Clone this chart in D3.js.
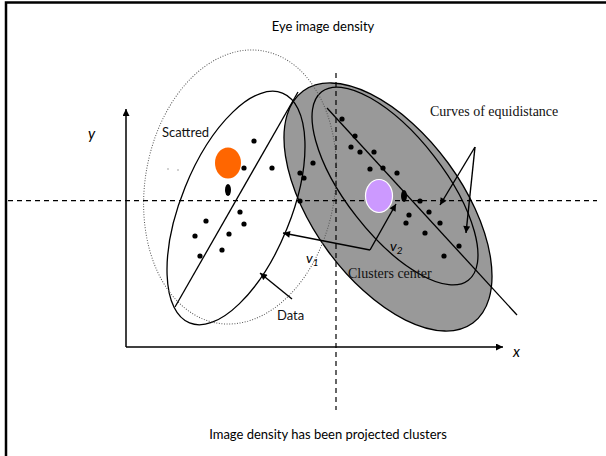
<!DOCTYPE html>
<html>
<head>
<meta charset="utf-8">
<script src="https://cdn.jsdelivr.net/npm/d3@7"></script>
<style>
  body { margin: 0; background: #fff; }
  .calibri { font-family: Lato, "Open Sans", sans-serif; }
  .serif { font-family: "Liberation Serif", "DejaVu Serif", serif; }
</style>
</head>
<body>
<div class="chart"></div>
<script>
// diagram values, in axis units (origin = where the x and y axes meet)

const leftPoints = [
    [128, 206], [118, 179], [146, 179], [174, 174], [178, 169], [187, 184],
    [174, 146], [114, 135], [118, 123], [80, 126], [69, 111], [103, 113],
    [96, 97], [74, 91]
];
const rightPoints = [
    [216, 228], [229, 211], [225, 200], [234, 195], [248, 195], [244, 178],
    [257, 179], [271, 174], [294, 146], [303, 135], [283, 132], [280, 124],
    [314, 124], [299, 114], [333, 101], [318, 91]
];
const tallDots = [[102, 157], [278, 151]];
const faintDots = [[42, 178], [52, 177]];

// cluster centres: x, y, rx, ry, colour
const centers = [
    { name: "scattred", x: 102, y: 184, rx: 13, ry: 15.5, color: "#ff6600" },
    { name: "cluster", x: 253, y: 151, rx: 13.5, ry: 16.5, color: "#cc99ff" }
];

// ellipses: centre, radii, rotation in degrees
const ellipses = [
    { name: "projected", x: 262, y: 140, rx: 143.7, ry: 74.5, angle: 53.8 },
    { name: "equidistance", x: 269, y: 161, rx: 119.4, ry: 49.2, angle: 52.1 },
    { name: "data", x: 110, y: 139, rx: 55, ry: 124, angle: 22 },
    { name: "density", x: 114, y: 160, rx: 95, ry: 138, angle: 9.4 }
];

// principal lines through the two clusters
const axisLines = [
    [[172, 255], [49, 40]],
    [[201, 239], [391, 32]]
];

// arrows: from -> to
const arrows = [
    [[244, 97], [157, 114]],   // v1
    [[244, 97], [270, 143]],   // v2
    [[166, 48], [134, 74]],    // Data
    [[349, 200], [314, 142]],  // curves
    [[349, 200], [340, 114]]
];

const dashY = 146.3, dashX = 210;
const xMax = 377, yMax = 238;

const labels = [
    { text: "Scattred", x: 36, y: 210, cls: "calibri", size: 13 },
    { text: "Data", x: 151, y: 27, cls: "calibri", size: 13 },
    { text: "Clusters center", x: 222, y: 69, cls: "serif", size: 14 },
    { text: "Curves of equidistance", x: 304, y: 231, cls: "serif", size: 14 }
];
const subLabels = [
    { v: "v", sub: "1", x: 180, y: 84 },
    { v: "v", sub: "2", x: 264, y: 96 }
];

const title = "Eye image density";
const caption = "Image density has been projected clusters";


const width = 606, height = 456;

const svg = d3.select(".chart")
    .append("svg")
    .attr("width", width)
    .attr("height", height);

// scales: one unit = one pixel, y goes up
const x = d3.scaleLinear().domain([0, xMax]).range([126, 503]);
const y = d3.scaleLinear().domain([0, yMax]).range([347, 109]);
const len = v => x(v) - x(0);

const defs = svg.append("defs");
defs.append("marker")
    .attr("id", "arrow")
    .attr("viewBox", "0 0 10 10")
    .attr("refX", 10)
    .attr("refY", 5)
    .attr("markerUnits", "userSpaceOnUse")
    .attr("markerWidth", 9)
    .attr("markerHeight", 7)
    .attr("orient", "auto")
    .append("path")
    .attr("d", "M0,0 L10,5 L0,10 z")
    .attr("fill", "#000");

// frame (top and left only)
svg.append("path")
    .attr("d", `M6,456 L6,2.5 L606,2.5`)
    .attr("fill", "none")
    .attr("stroke", "#000")
    .attr("stroke-width", 2.5);

// the gray ellipse + inner curve
const ellG = svg.append("g");
ellipses.forEach(e => {
    const el = ellG.append("ellipse")
        .attr("transform", `translate(${x(e.x)},${y(e.y)}) rotate(${e.angle})`)
        .attr("rx", len(e.rx))
        .attr("ry", len(e.ry));
    if (e.name == "projected") {
        el.attr("fill", "#999999").attr("stroke", "#000").attr("stroke-width", 1.3);
    }
    else if (e.name == "density") {
        el.attr("fill", "none").attr("stroke", "#555").attr("stroke-width", 1)
            .attr("stroke-dasharray", "1,1.6");
    }
    else {
        el.attr("fill", "none").attr("stroke", "#000").attr("stroke-width", 1.3);
    }
});

// dashed cross lines
svg.append("line")
    .attr("x1", 8).attr("x2", 597)
    .attr("y1", y(dashY)).attr("y2", y(dashY))
    .attr("stroke", "#000").attr("stroke-width", 1.2)
    .attr("stroke-dasharray", "5,4");
svg.append("line")
    .attr("x1", x(dashX)).attr("x2", x(dashX))
    .attr("y1", 73).attr("y2", 410)
    .attr("stroke", "#000").attr("stroke-width", 1.2)
    .attr("stroke-dasharray", "5,4");

// axes
svg.append("line")
    .attr("x1", x(0)).attr("y1", y(0)).attr("x2", x(0)).attr("y2", y(yMax))
    .attr("stroke", "#000").attr("stroke-width", 1.5)
    .attr("marker-end", "url(#arrow)");
svg.append("line")
    .attr("x1", x(0)).attr("y1", y(0)).attr("x2", x(xMax)).attr("y2", y(0))
    .attr("stroke", "#000").attr("stroke-width", 1.5)
    .attr("marker-end", "url(#arrow)");

// principal lines
svg.selectAll(".pline")
    .data(axisLines)
    .join("line")
    .attr("class", "pline")
    .attr("x1", d => x(d[0][0])).attr("y1", d => y(d[0][1]))
    .attr("x2", d => x(d[1][0])).attr("y2", d => y(d[1][1]))
    .attr("stroke", "#000").attr("stroke-width", 1.3);

// arrows
svg.selectAll(".arrow")
    .data(arrows)
    .join("line")
    .attr("class", "arrow")
    .attr("x1", d => x(d[0][0])).attr("y1", d => y(d[0][1]))
    .attr("x2", d => x(d[1][0])).attr("y2", d => y(d[1][1]))
    .attr("stroke", "#000").attr("stroke-width", 1.4)
    .attr("marker-end", "url(#arrow)");

// points
svg.selectAll(".pt")
    .data(leftPoints.concat(rightPoints))
    .join("circle")
    .attr("class", "pt")
    .attr("cx", d => x(d[0]))
    .attr("cy", d => y(d[1]))
    .attr("r", 2.6)
    .attr("fill", "#000");

svg.selectAll(".tall")
    .data(tallDots)
    .join("ellipse")
    .attr("class", "tall")
    .attr("cx", d => x(d[0]))
    .attr("cy", d => y(d[1]))
    .attr("rx", 3)
    .attr("ry", 6)
    .attr("fill", "#000");

svg.selectAll(".faint")
    .data(faintDots)
    .join("circle")
    .attr("class", "faint")
    .attr("cx", d => x(d[0]))
    .attr("cy", d => y(d[1]))
    .attr("r", 0.8)
    .attr("fill", "#999");

// cluster centres
svg.selectAll(".center")
    .data(centers)
    .join("ellipse")
    .attr("class", "center")
    .attr("cx", d => x(d.x))
    .attr("cy", d => y(d.y))
    .attr("rx", d => len(d.rx))
    .attr("ry", d => len(d.ry))
    .attr("fill", d => d.color)
    .attr("stroke", d => d.name == "cluster" ? "#fff" : "none")
    .attr("stroke-width", 1.2);

// labels
svg.selectAll(".lbl")
    .data(labels)
    .join("text")
    .attr("class", d => "lbl " + d.cls)
    .attr("x", d => x(d.x))
    .attr("y", d => y(d.y))
    .attr("font-size", d => d.size)
    .attr("fill", "#111")
    .text(d => d.text);

subLabels.forEach(s => {
    const t = svg.append("text")
        .attr("class", "calibri")
        .attr("x", x(s.x))
        .attr("y", y(s.y))
        .attr("font-size", 14)
        .attr("font-style", "italic");
    t.append("tspan").text(s.v);
    t.append("tspan").attr("dy", 3).attr("font-size", 10).text(s.sub);
});

svg.append("text")
    .attr("class", "calibri")
    .attr("x", x(-38)).attr("y", y(208))
    .attr("font-size", 15).attr("font-style", "italic")
    .text("y");
svg.append("text")
    .attr("class", "calibri")
    .attr("x", x(387)).attr("y", y(-10))
    .attr("font-size", 15).attr("font-style", "italic")
    .text("x");

svg.append("text")
    .attr("class", "calibri")
    .attr("x", 323).attr("y", 31)
    .attr("text-anchor", "middle")
    .attr("font-size", 13)
    .text(title);
svg.append("text")
    .attr("class", "calibri")
    .attr("x", 328).attr("y", 439)
    .attr("text-anchor", "middle")
    .attr("font-size", 13)
    .text(caption);
</script>
</body>
</html>
